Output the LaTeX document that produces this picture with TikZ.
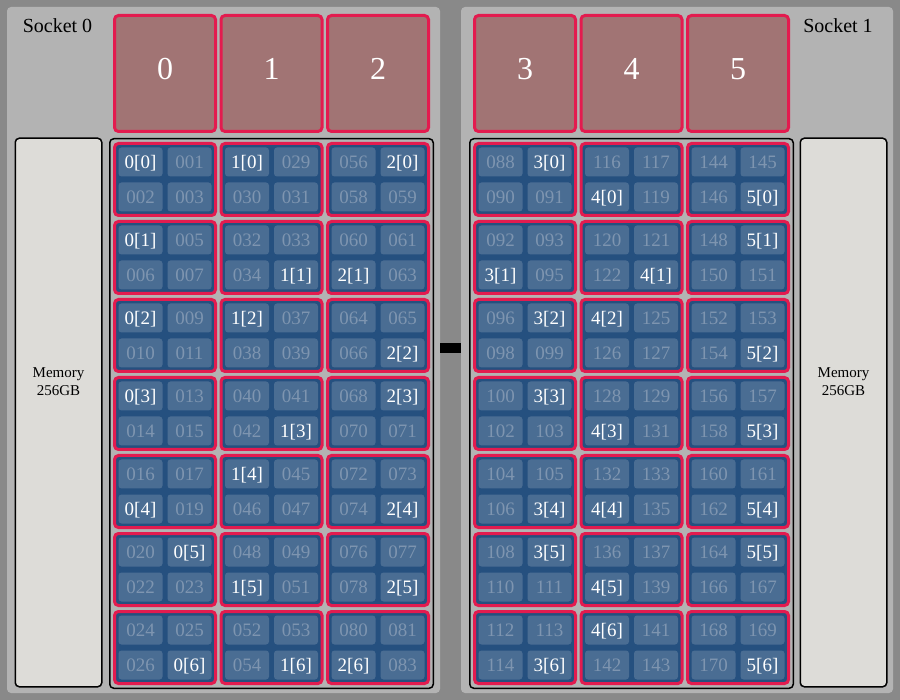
\documentclass[tikz,border=0pt]{standalone}
\usepackage{fontspec}
\setmainfont{Liberation Serif}
\usepackage{tikz}
\usetikzlibrary{positioning}
\usepackage{xcolor}
\definecolor{outergray}{HTML}{898989}
\definecolor{panelgray}{HTML}{B3B3B3}
\definecolor{memgray}{HTML}{DDDCD8}
\definecolor{numared}{HTML}{E31B4F}
\definecolor{numafill}{HTML}{A17474}
\definecolor{groupblue}{HTML}{25507F}
\definecolor{coreblue}{HTML}{4A6D93}
\definecolor{dimtext}{HTML}{7E95B0}

% position of the pinned core in each group, index 21*socket+3*row+col
\def\pinpos{{0,0,1,0,3,2,0,0,3,0,3,1,2,0,3,1,2,3,3,3,2,1,2,3,2,3,1,1,0,3,1,2,3,3,2,3,1,2,1,3,0,3}}
\newcommand\padnum[1]{\ifnum#1<10 00\else\ifnum#1<100 0\fi\fi#1}

\begin{document}
\begin{tikzpicture}[x=1pt,y=-1pt,
		panel/.style={fill=panelgray,rounded corners=4pt,minimum height=686pt,inner sep=0pt},
		socklabel/.style={font=\fontsize{20}{20}\selectfont},
		memory/.style={draw=black,line width=1.5pt,fill=memgray,rounded corners=4pt,minimum width=86.5pt,minimum height=548.5pt,inner sep=0pt},
		memtext/.style={font=\fontsize{15}{18}\selectfont,align=center,yshift=31pt},
		gridframe/.style={draw=black,line width=1.5pt,rounded corners=4pt,minimum width=323.5pt,minimum height=549.5pt,inner sep=0pt},
		numabox/.style={draw=numared,line width=3pt,fill=numafill,rounded corners=4pt,minimum width=101pt,minimum height=116pt,inner sep=0pt,text=white,font=\fontsize{32}{32}\selectfont,text depth=8.6pt},
		group/.style={draw=numared,line width=3pt,fill=groupblue,rounded corners=4pt,minimum width=101pt,minimum height=72pt,inner sep=0pt},
		core/.style={fill=coreblue,rounded corners=3pt,minimum width=44pt,minimum height=29pt,inner sep=0pt,text=dimtext,font=\fontsize{19}{19}\selectfont,text height=13pt,text depth=0pt},
		qpi/.style={line width=10pt,black}]
	\fill[outergray] (0,0) rectangle (900,700);

	\node[panel,minimum width=433pt] (sock0) at (223.5,350) {};
	\node[panel,minimum width=432pt] (sock1) at (677,350) {};
	\draw[qpi] ([yshift=2pt]sock0.east) -- ([yshift=2pt]sock1.west);

	\node[socklabel] (lbl0) at (57.5,25.2) {Socket 0};
	\node[socklabel] (lbl1) at (838,25.2) {Socket 1};

	\node[memory,label={[memtext]center:Memory\\256GB}] (mem0) at (58.5,412.5) {};
	\node[memory,label={[memtext]center:Memory\\256GB}] (mem1) at (843.5,412.5) {};

	\node[gridframe] (grid0) at (271.5,413.5) {};
	\node[gridframe] (grid1) at (631.5,413.5) {};

	\foreach \s in {0,1}{
		\foreach \c in {0,1,2}{
			\pgfmathsetmacro\gx{113+360*\s+106.5*\c}
			\pgfmathtruncatemacro\numa{3*\s+\c}
			\node[numabox] (numa\numa) at (\gx+52,73.5) {\numa};
			\foreach \r in {0,...,6}{
				\pgfmathsetmacro\gy{142+78*\r}
				\pgfmathtruncatemacro\hp{\pinpos[21*\s+3*\r+\c]}
				\node[group] (grp\numa-\r) at (\gx+52,\gy+37.5) {};
				\foreach \k in {0,...,3}{
					\pgfmathtruncatemacro\n{88*\s+28*\c+4*\r+\k}
					\pgfmathsetmacro\cx{\gx+27.5+49*mod(\k,2)}
					\pgfmathsetmacro\cy{\gy+20+35*int(\k/2)}
					\ifnum\k=\hp
						\node[core,text=white] (core\n) at (\cx,\cy) {\numa[\r]};
					\else
						\node[core] (core\n) at (\cx,\cy) {\padnum{\n}};
					\fi
				}
			}
		}
	}
\end{tikzpicture}
\end{document}
